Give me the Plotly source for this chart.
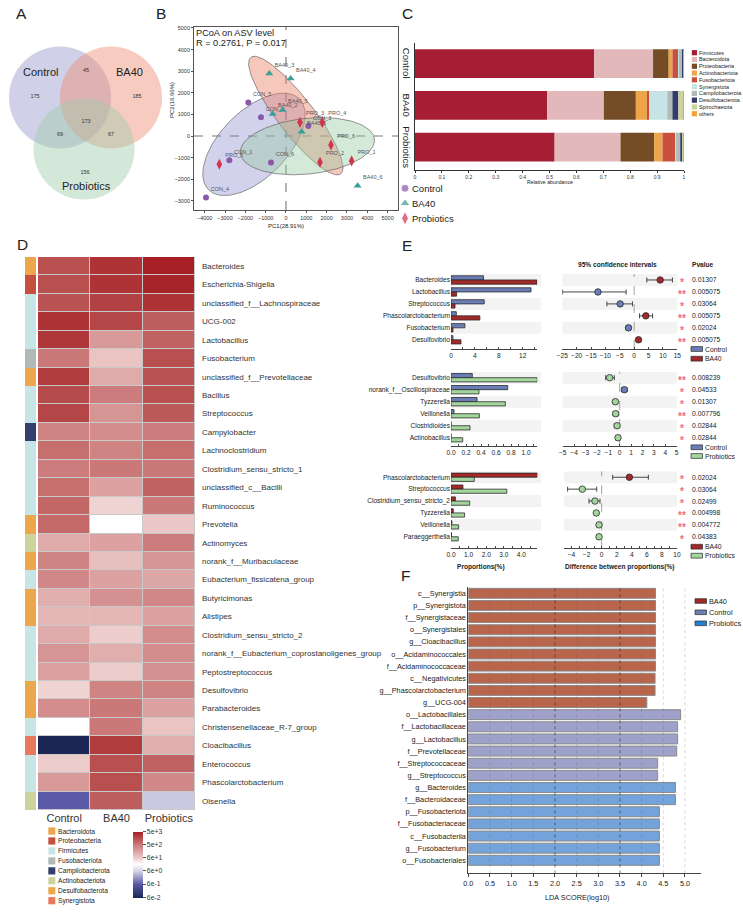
import numpy as np
import plotly.graph_objects as go

W, H = 743, 918
def fx(p): return p / W
def fy(p): return 1 - p / H

FONT = "Liberation Sans, Arial, Helvetica, sans-serif"
TXT = "#222222"

# ======================= DATA =======================
# A  Venn
venn_labels = ["Control", "BA40", "Probiotics"]
venn_counts = [175, 185, 156, 45, 69, 67, 173]  # C only, B only, P only, C&B, C&P, B&P, all

# B  PCoA
pcoa_title = "PCoA on ASV level"
pcoa_stat = "R = 0.2761, P = 0.017"
con_names = ["CON_1", "CON_2", "CON_3", "CON_4", "CON_5", "CON_6"]
con_pc1 = [-2787, -1230, 1098, -3934, -1852, -738]
con_pc2 = [-1123, 866, 463, -2846, 1554, -1231]
ba40_names = ["BA40_1", "BA40_2", "BA40_3", "BA40_4", "BA40_5", "BA40_6"]
ba40_pc1 = [772, -654, -820, 230, -162, 3525]
ba40_pc2 = [199, 1019, 2892, 2662, 1204, -2308]
pro_names = ["PRO_1", "PRO_2", "PRO_3", "PRO_4", "PRO_5", "PRO_6"]
pro_pc1 = [3230, 1672, 689, 1786, -3279, 2213]
pro_pc2 = [-1154, -1215, 634, 634, -1308, -417]
pc1_ticks = [-4000, -3000, -2000, -1000, 0, 1000, 2000, 3000, 4000, 5000]
pc2_ticks = [-3000, -2000, -1000, 0, 1000, 2000, 3000, 4000, 5000]

# C  phylum composition
c_groups = ["Control", "BA40", "Probiotics"]
c_phyla = ["Firmicutes", "Bacteroidota", "Proteobacteria", "Actinobacteriota", "Fusobacteriota",
           "Synergistota", "Campilobacterota", "Desulfobacterota", "Spirochaetota", "others"]
c_control = [0.666, 0.219, 0.058, 0.014, 0.022, 0.002, 0.013, 0.005, 0.000, 0.001]
c_ba40 = [0.491, 0.211, 0.119, 0.045, 0.004, 0.068, 0.019, 0.022, 0.020, 0.001]
c_probiotics = [0.519, 0.245, 0.125, 0.031, 0.048, 0.003, 0.015, 0.010, 0.003, 0.001]
c_ticks = [0, 0.1, 0.2, 0.3, 0.4, 0.5, 0.6, 0.7, 0.8, 0.9, 1]
c_ticklabels = ["0", "0.1", "0.2", "0.3", "0.4", "0.5", "0.6", "0.7", "0.8", "0.9", "1"]

# D  genus heatmap (log10 abundance)
d_groups = ["Control", "BA40", "Probiotics"]
d_genera = ["Bacteroides", "Escherichia-Shigella", "unclassified_f__Lachnospiraceae", "UCG-002",
            "Lactobacillus", "Fusobacterium", "unclassified_f__Prevotellaceae", "Bacillus",
            "Streptococcus", "Campylobacter", "Lachnoclostridium", "Clostridium_sensu_stricto_1",
            "unclassified_c__Bacilli", "Ruminococcus", "Prevotella", "Actinomyces",
            "norank_f__Muribaculaceae", "Eubacterium_fissicatena_group", "Butyricimonas", "Alistipes",
            "Clostridium_sensu_stricto_2", "norank_f__Eubacterium_coprostanoligenes_group",
            "Peptostreptococcus", "Desulfovibrio", "Parabacteroides", "Christensenellaceae_R-7_group",
            "Cloacibacillus", "Enterococcus", "Phascolarctobacterium", "Olsenella"]
d_control = [3.2, 3.2, 3.15, 3.5, 3.45, 2.75, 3.4, 3.25, 3.3, 2.6, 2.85, 2.7, 2.85, 2.95, 2.9,
             2.15, 2.6, 2.55, 2.1, 2.0, 2.15, 2.4, 2.25, 1.7, 2.5, 1.3, -1.2, 1.75, 2.35, -0.2]
d_ba40 = [3.5, 3.5, 3.35, 3.3, 2.35, 1.85, 2.15, 2.7, 2.4, 2.5, 2.6, 2.75, 2.25, 1.7, 1.3,
          2.25, 1.9, 2.25, 2.45, 2.0, 1.75, 2.1, 1.75, 2.6, 2.75, 2.75, 3.4, 3.2, 3.2, 3.05]
d_probiotics = [3.7, 3.65, 3.5, 3.05, 3.0, 3.2, 3.15, 3.2, 3.1, 2.7, 2.85, 2.75, 3.0, 2.75, 1.8,
                2.7, 2.4, 2.2, 2.55, 2.25, 2.5, 2.5, 2.45, 2.6, 2.25, 1.85, 2.1, 3.0, 2.55, 0.7]
d_phylum_names = ["Bacteroidota", "Proteobacteria", "Firmicutes", "Fusobacteriota",
                  "Campilobacterota", "Actinobacteriota", "Desulfobacterota", "Synergistota"]
d_row_phylum = [0, 1, 2, 2, 2, 3, 0, 2, 2, 4, 2, 2, 2, 2, 0, 5, 0, 2, 0, 0, 2, 2, 2, 6, 0, 2, 7, 2, 2, 5]
d_scale_values = [5000, 500, 60, 6, 0.6, 0.06]
d_scale_labels = ["5e+3", "5e+2", "6e+1", "6e+0", "6e-1", "6e-2"]

# E  STAMP-like comparisons
e1_taxa = ["Bacteroides", "Lactobacillus", "Streptococcus", "Phascolarctobacterium", "Fusobacterium", "Desulfovibrio"]
e1_control = [5.44, 13.4, 5.56, 0.89, 2.33, 0.33]
e1_ba40 = [14.4, 0.94, 0.67, 4.83, 0.33, 1.67]
e1_diff = [9.04, -12.6, -4.87, 4.06, -1.97, 1.5]
e1_lo = [4.4, -24.9, -9.5, 1.86, -2.8, 0.9]
e1_hi = [13.3, -2.8, -0.6, 6.4, -1.2, 2.1]
e1_p = ["0.01307", "0.005075", "0.03064", "0.005075", "0.02024", "0.005075"]
e1_sig = ["*", "**", "*", "**", "*", "**"]

e2_taxa = ["Desulfovibrio", "norank_f__Oscillospiraceae", "Tyzzerella", "Veillonella", "Clostridioides", "Actinobacillus"]
e2_control = [0.284, 0.756, 0.347, 0.04, 0.0, 0.0]
e2_probiotics = [1.15, 0.373, 0.724, 0.378, 0.253, 0.156]
e2_diff = [-0.88, 0.41, -0.38, -0.35, -0.23, -0.15]
e2_lo = [-1.23, 0.18, -0.58, -0.58, -0.47, -0.35]
e2_hi = [-0.47, 0.64, -0.18, -0.09, -0.06, 0.06]
e2_p = ["0.008239", "0.04533", "0.01307", "0.007796", "0.02844", "0.02844"]
e2_sig = ["**", "*", "*", "**", "*", "*"]

e3_taxa = ["Phascolarctobacterium", "Streptococcus", "Clostridium_sensu_stricto_2", "Tyzzerella", "Veillonella", "Paraeggerthella"]
e3_ba40 = [4.92, 0.68, 0.25, 0.13, 0.05, 0.03]
e3_probiotics = [1.32, 3.17, 1.06, 0.77, 0.43, 0.41]
e3_diff = [3.68, -2.57, -0.89, -0.71, -0.35, -0.35]
e3_lo = [1.46, -4.52, -1.68, -0.89, -0.62, -0.62]
e3_hi = [6.2, -0.66, -0.22, -0.53, -0.09, -0.09]
e3_p = ["0.02024", "0.03064", "0.02499", "0.004998", "0.004772", "0.04383"]
e3_sig = ["*", "*", "*", "**", "**", "*"]

# F  LEfSe
f_ba40_taxa = ["c__Synergistia", "p__Synergistota", "f__Synergistaceae", "o__Synergistales",
               "g__Cloacibacillus", "o__Acidaminococcales", "f__Acidaminococcaceae",
               "c__Negativicutes", "g__Phascolarctobacterium", "g__UCG-004"]
f_ba40_lda = [4.32, 4.32, 4.32, 4.32, 4.32, 4.32, 4.32, 4.31, 4.31, 4.12]
f_control_taxa = ["o__Lactobacillales", "f__Lactobacillaceae", "g__Lactobacillus",
                  "f__Prevotellaceae", "f__Streptococcaceae", "g__Streptococcus"]
f_control_lda = [4.90, 4.83, 4.83, 4.81, 4.37, 4.37]
f_pro_taxa = ["g__Bacteroides", "f__Bacteroidaceae", "p__Fusobacteriota", "f__Fusobacteriaceae",
              "c__Fusobacteriia", "g__Fusobacterium", "o__Fusobacteriales"]
f_pro_lda = [4.78, 4.78, 4.41, 4.41, 4.41, 4.41, 4.41]
f_ticks = [0.0, 0.5, 1.0, 1.5, 2.0, 2.5, 3.0, 3.5, 4.0, 4.5, 5.0]

# ======================= STYLE =======================
C_PURPLE, C_TEAL, C_CRIMSON = "#8c58a8", "#38a09a", "#d2344e"
c_colors = ["#a51e34", "#e3b8ba", "#744c25", "#eca54a", "#c9503c", "#c6e4e6",
            "#b1bcb9", "#323d6b", "#cdd29e", "#f2a33c"]
d_phylum_colors = ["#eca64c", "#c4503e", "#c7e5e6", "#b0b9b6", "#343f6c", "#ced39e", "#eca64c", "#e8795e"]
E_BLUE, E_RED, E_GREEN = "#6a7db6", "#a52828", "#a3d69c"
F_COL = {"BA40": "#b9654b", "Control": "#9ea1c9", "Probiotics": "#73a3da"}
F_LEG = {"BA40": "#a32a2a", "Control": "#6f7fb5", "Probiotics": "#1f82d4"}

fig = go.Figure()
shapes, annos = [], []

def ann(text, x, y, size=7, color=TXT, xanchor="center", yanchor="middle",
        xref="paper", yref="paper", angle=0, yshift=0, bold=False):
    xv = fx(x) if xref == "paper" else x
    yv = fy(y) if yref == "paper" else y
    if bold:
        text = "<b>" + text + "</b>"
    annos.append(dict(text=text, x=xv, y=yv, xref=xref, yref=yref, showarrow=False,
                      font=dict(size=size, color=color, family=FONT), xanchor=xanchor,
                      yanchor=yanchor, textangle=angle, yshift=yshift, borderpad=0))

def rect(x0, y0, x1, y1, fill, line=None, lw=0.0, layer="above"):
    shapes.append(dict(type="rect", xref="paper", yref="paper", x0=fx(x0), x1=fx(x1),
                       y0=fy(y1), y1=fy(y0), fillcolor=fill,
                       line=dict(color=line or fill, width=lw), layer=layer))

def ax(**kw):
    d = dict(showgrid=False, zeroline=False, showline=False, ticks="", showticklabels=False,
             automargin=False, fixedrange=True)
    d.update(kw)
    return d

# ======================= A : Venn =======================
venn_circles = [(60, 97.5, 51, "rgba(150,150,205,0.45)"),
                (111, 97.5, 51, "rgba(240,140,115,0.45)"),
                (84, 149, 50.5, "rgba(160,205,170,0.45)")]
for cx, cy, r, col in venn_circles:
    shapes.append(dict(type="circle", xref="x12", yref="y12", x0=cx - r, x1=cx + r,
                       y0=cy - r, y1=cy + r, fillcolor=col, line=dict(width=0), layer="below"))
venn_num_x = [35, 137, 85, 86, 60, 111, 86]
venn_num_y = [96.7, 96.7, 172.7, 70.7, 134.3, 134.3, 121.7]
fig.add_trace(go.Scatter(x=venn_num_x, y=venn_num_y, mode="text",
                         text=[str(v) for v in venn_counts],
                         textfont=dict(size=5.5, color="#333", family=FONT),
                         xaxis="x12", yaxis="y12", hoverinfo="skip"))
for lab, (x, y) in zip(venn_labels, [(40, 72), (129.5, 72), (86.3, 186)]):
    ann(lab, x, y, size=11, color=TXT)

# ======================= B : PCoA =======================
def ellipse(xs, ys, k=1.45, n=160):
    xs = np.asarray(xs, float); ys = np.asarray(ys, float)
    vals, vecs = np.linalg.eigh(np.cov(xs, ys))
    t = np.linspace(0, 2 * np.pi, n)
    circ = np.vstack([np.cos(t), np.sin(t)])
    pts = vecs @ (np.sqrt(vals)[:, None] * circ) * k
    return xs.mean() + pts[0], ys.mean() + pts[1]

for xs, ys, col in [(con_pc1, con_pc2, "rgba(130,125,200,0.35)"),
                    (ba40_pc1, ba40_pc2, "rgba(235,130,105,0.45)"),
                    (pro_pc1, pro_pc2, "rgba(150,200,160,0.40)")]:
    ex, ey = ellipse(xs, ys)
    fig.add_trace(go.Scatter(x=ex, y=ey, mode="lines", fill="toself", fillcolor=col,
                             line=dict(color="#666", width=0.7), xaxis="x", yaxis="y",
                             hoverinfo="skip"))
for xs, ys, names, sym, col, sz in [(con_pc1, con_pc2, con_names, "circle", C_PURPLE, 6),
                                     (ba40_pc1, ba40_pc2, ba40_names, "triangle-up", C_TEAL, 7),
                                     (pro_pc1, pro_pc2, pro_names, "diamond-tall", C_CRIMSON, 8)]:
    fig.add_trace(go.Scatter(x=xs, y=ys, mode="markers+text", text=names,
                             textposition="top right",
                             textfont=dict(size=5.5, color="#555", family=FONT),
                             marker=dict(symbol=sym, size=sz, color=col, line=dict(width=0)),
                             xaxis="x", yaxis="y", cliponaxis=False, hoverinfo="skip"))
shapes.append(dict(type="line", xref="x", yref="y domain", x0=0, x1=0, y0=0, y1=1,
                   line=dict(color="#777", width=1.1, dash="dash"), layer="below"))
shapes.append(dict(type="line", xref="x domain", yref="y", x0=0, x1=1, y0=0, y1=0,
                   line=dict(color="#777", width=1.1, dash="dash"), layer="below"))
ann(pcoa_title, 195, 33.3, size=9.2, xanchor="left")
ann(pcoa_stat, 195, 42.7, size=9.2, xanchor="left")
ann("PC1(28.91%)", 286, 226, size=6)
ann("PC2(16.66%)", 172, 100, size=6, angle=-90)
# legend of B
fig.add_trace(go.Scatter(x=[405, 405, 405], y=[188.3, 203.3, 218.3], mode="markers",
                         marker=dict(symbol=["circle", "triangle-up", "diamond-tall"],
                                     size=[8, 9, 10], color=[C_PURPLE, C_TEAL, C_CRIMSON]),
                         xaxis="x12", yaxis="y12", hoverinfo="skip"))
for lab, y in zip(["Control", "BA40", "Probiotics"], [188.3, 203.3, 218.3]):
    ann(lab, 410.5, y, size=9.5, xanchor="left")

# ======================= C : stacked bars =======================
c_matrix = np.array([c_control, c_ba40, c_probiotics])
c_base = np.cumsum(c_matrix, axis=1) - c_matrix
for j, ph in enumerate(c_phyla):
    fig.add_trace(go.Bar(y=[0, 1, 2], x=c_matrix[:, j], base=c_base[:, j], orientation="h",
                         width=0.69, marker=dict(color=c_colors[j], line=dict(width=0)),
                         xaxis="x2", yaxis="y2", hoverinfo="skip"))
for i, g in enumerate(c_groups):
    ann(g, 406.7, i, yref="y2", size=9.5, angle=90)
ann("Relative abundance", 550, 181.7, size=5.2)
for j, ph in enumerate(c_phyla):
    yy = 52.7 + j * 6.78
    rect(691.8, yy - 2.6, 697, yy + 2.6, c_colors[j])
    ann(ph, 698.3, yy, size=5.4, xanchor="left")

# ======================= D : heatmap =======================
d_z = np.array([d_control, d_ba40, d_probiotics]).T
zmin, zmax = np.log10(0.06), np.log10(5000)
span = zmax - zmin
stops = [(np.log10(0.06), "#1c2654"), (np.log10(0.6), "#5656a4"), (np.log10(6), "#d4d4ea"),
         (1.3, "#ffffff"), (np.log10(60), "#ecc9c9"), (np.log10(500), "#cc7c7c"),
         (3.2, "#b85050"), (np.log10(5000), "#a51f24")]
d_colorscale = [[(v - zmin) / span, c] for v, c in stops]
d_colorscale[0][0] = 0.0
d_colorscale[-1][0] = 1.0
shapes.append(dict(type="rect", xref="x3 domain", yref="y3 domain", x0=0, x1=1, y0=0, y1=1,
                   fillcolor="#c9c9c9", line=dict(width=0), layer="below"))
fig.add_trace(go.Heatmap(z=d_z, x=[0, 1, 2], y=list(range(len(d_genera))), zmin=zmin, zmax=zmax,
                         colorscale=d_colorscale, xgap=1, ygap=1, xaxis="x3", yaxis="y3",
                         hoverinfo="skip",
                         colorbar=dict(x=fx(133.3), xanchor="left", y=fy(864.5), yanchor="middle",
                                       lenmode="pixels", len=66, thickness=10, xpad=0, ypad=0,
                                       outlinewidth=0, ticks="outside", ticklen=3,
                                       tickcolor="#555",
                                       tickvals=list(np.log10(d_scale_values)),
                                       ticktext=d_scale_labels,
                                       tickfont=dict(size=6.8, color="#333", family=FONT))))
nph = len(d_phylum_names)
strip_cs = []
for i, c in enumerate(d_phylum_colors):
    strip_cs += [[i / nph, c], [(i + 1) / nph, c]]
fig.add_trace(go.Heatmap(z=[[v] for v in d_row_phylum], x=[0], y=list(range(len(d_genera))),
                         zmin=-0.5, zmax=nph - 0.5, colorscale=strip_cs, showscale=False,
                         xaxis="x4", yaxis="y3", hoverinfo="skip"))
for i, (nm, col) in enumerate(zip(d_phylum_names, d_phylum_colors)):
    yy = 831 + i * 9.96
    rect(48.3, yy - 3.6, 55.3, yy + 3.6, col)
    ann(nm, 56.7, yy, size=6.6, xanchor="left")

# ======================= E : comparisons =======================
def e_panel(xb, xc, ya, taxa, g1, g2, col1, col2, diff, lo, hi, pos_col, neg_col,
            pvals, sig, band_bar, band_ci):
    yb = list(range(len(taxa)))
    for i in yb:
        if i % 2 == 0:
            for x0, x1 in (band_bar, band_ci):
                shapes.append(dict(type="rect", xref="paper", yref=ya, x0=fx(x0), x1=fx(x1),
                                   y0=i - 0.5, y1=i + 0.5, fillcolor="#f3f3f3",
                                   line=dict(width=0), layer="below"))
    fig.add_trace(go.Bar(y=yb, x=g1, orientation="h", width=0.35, offset=-0.35,
                         marker=dict(color=col1, line=dict(color="#2b2b2b", width=0.8)),
                         xaxis=xb, yaxis=ya, hoverinfo="skip"))
    fig.add_trace(go.Bar(y=yb, x=g2, orientation="h", width=0.35, offset=0.0,
                         marker=dict(color=col2, line=dict(color="#2b2b2b", width=0.8)),
                         xaxis=xb, yaxis=ya, hoverinfo="skip"))
    d = np.array(diff); l = np.array(lo); h = np.array(hi)
    shapes.append(dict(type="line", xref=xc, yref=ya + " domain", x0=0, x1=0, y0=0, y1=1,
                       line=dict(color="#999", width=0.9, dash="dash"), layer="below"))
    fig.add_trace(go.Scatter(x=d, y=yb, mode="markers",
                             marker=dict(size=6.5, color=[pos_col if v > 0 else neg_col for v in d],
                                         line=dict(color="#2b2b2b", width=0.8)),
                             error_x=dict(type="data", symmetric=False, array=h - d,
                                          arrayminus=d - l, color="#333", thickness=0.9, width=2.5),
                             xaxis=xc, yaxis=ya, hoverinfo="skip"))
    for i in yb:
        ann(sig[i], 681.5, i, yref=ya, size=10, color="#f26d7d", yshift=-2.5, bold=True)
        ann(pvals[i], 690.7, i, yref=ya, size=6.8, xanchor="left")

e_panel("x5", "x6", "y5", e1_taxa, e1_control, e1_ba40, E_BLUE, E_RED, e1_diff, e1_lo, e1_hi,
        E_RED, E_BLUE, e1_p, e1_sig, (451, 541), (562.3, 677.3))
e_panel("x7", "x8", "y7", e2_taxa, e2_control, e2_probiotics, E_BLUE, E_GREEN, e2_diff, e2_lo,
        e2_hi, E_BLUE, E_GREEN, e2_p, e2_sig, (451, 541), (562.7, 676.7))
e_panel("x9", "x10", "y9", e3_taxa, e3_ba40, e3_probiotics, E_RED, E_GREEN, e3_diff, e3_lo,
        e3_hi, E_RED, E_GREEN, e3_p, e3_sig, (451, 541), (564, 677))
ann("95% confidence intervals", 617, 264, size=6.6, bold=True)
ann("Pvalue", 690.7, 264, size=6.6, xanchor="left", bold=True)
ann("Proportions(%)", 481, 567, size=6.6, bold=True)
ann("Difference between proportions(%)", 620, 567, size=6.6, bold=True)
for (lab, col, y) in [("Control", E_BLUE, 349), ("BA40", E_RED, 358.7),
                      ("Control", E_BLUE, 447.3), ("Probiotics", E_GREEN, 456),
                      ("BA40", E_RED, 546.7), ("Probiotics", E_GREEN, 555.7)]:
    rect(691, y - 2.4, 702.5, y + 2.4, col, line="#2b2b2b", lw=0.7)
    ann(lab, 703.5, y, size=6.8, xanchor="left")

# ======================= F : LDA =======================
f_all_taxa = f_ba40_taxa + f_control_taxa + f_pro_taxa
start = 0
for grp, taxa, vals in [("BA40", f_ba40_taxa, f_ba40_lda), ("Control", f_control_taxa, f_control_lda),
                        ("Probiotics", f_pro_taxa, f_pro_lda)]:
    ys = list(range(start, start + len(taxa)))
    start += len(taxa)
    fig.add_trace(go.Bar(y=ys, x=vals, orientation="h", width=0.82,
                         marker=dict(color=F_COL[grp], line=dict(color="#8a8a8a", width=1)),
                         xaxis="x11", yaxis="y11", hoverinfo="skip"))
for v in f_ticks[1:]:
    dark = v in (2.0, 3.5)
    shapes.append(dict(type="line", xref="x11", yref="y11 domain", x0=v, x1=v, y0=0, y1=1,
                       line=dict(color="rgba(40,40,40,0.75)" if dark else "rgba(90,90,90,0.3)",
                                 width=0.8, dash="dot"), layer="above"))
ann("LDA SCORE(log10)", 577, 897, size=7.3)
for (grp, y) in [("BA40", 601), ("Control", 612.3), ("Probiotics", 623.3)]:
    rect(695, y - 2.3, 706.5, y + 2.3, F_LEG[grp], line="#2b2b2b", lw=0.7)
    ann(grp, 707.5, y, size=7.3, xanchor="left")

# panel letters
for L, x, y in [("A", 21, 14), ("B", 160.5, 14), ("C", 407, 13.5), ("D", 22, 245),
                ("E", 407, 246), ("F", 405.7, 575.5)]:
    ann(L, x, y, size=15.5, color=TXT)

# ======================= LAYOUT =======================
tickf = dict(size=6.6, color="#222", family=FONT)
e_x = dict(showline=True, linecolor="#444", linewidth=0.8, ticks="inside", ticklen=2.5,
           tickcolor="#444", tickwidth=0.7, showticklabels=True, tickfont=tickf)
layout = dict(
    width=W, height=918, margin=dict(l=0, r=0, t=0, b=0), template="none",
    paper_bgcolor="white", plot_bgcolor="rgba(0,0,0,0)", showlegend=False, barmode="overlay",
    font=dict(family=FONT, color=TXT), shapes=shapes, annotations=annos,
    xaxis=ax(domain=[fx(194), fx(398)], range=[-4525, 5510], anchor="y", showline=True,
             mirror=True, linecolor="#555", linewidth=0.8, ticks="outside", ticklen=2,
             tickcolor="#555", tickvals=pc1_ticks, showticklabels=True,
             tickfont=dict(size=5.5, color="#333", family=FONT)),
    yaxis=ax(domain=[fy(210), fy(27)], range=[-3426, 5046], anchor="x", showline=True,
             mirror=True, linecolor="#555", linewidth=0.8, ticks="outside", ticklen=2,
             tickcolor="#555", tickvals=pc2_ticks, showticklabels=True,
             tickfont=dict(size=5.5, color="#333", family=FONT)),
    xaxis2=ax(domain=[fx(415), fx(684)], range=[0, 1], anchor="y2", showline=True,
              linecolor="#333", linewidth=0.6, ticks="outside", ticklen=2, tickcolor="#333",
              tickvals=c_ticks, ticktext=c_ticklabels, showticklabels=True,
              tickfont=dict(size=5, color="#333", family=FONT)),
    yaxis2=ax(domain=[fy(170), fy(42.7)], range=[2.55, -0.5], anchor="x2", showline=True,
              linecolor="#333", linewidth=0.6),
    xaxis3=ax(domain=[fx(38), fx(195)], range=[-0.5, 2.5], anchor="y3", tickvals=[0, 1, 2],
              ticktext=d_groups, showticklabels=True,
              tickfont=dict(size=11, color="#333", family=FONT)),
    yaxis3=ax(domain=[fy(810), fy(257)], range=[len(d_genera) - 0.5, -0.5], anchor="x3",
              side="right", tickvals=list(range(len(d_genera))), ticktext=d_genera,
              showticklabels=True, ticklabelstandoff=6,
              tickfont=dict(size=8, color="#333", family=FONT)),
    xaxis4=ax(domain=[fx(25), fx(36)], range=[-0.5, 0.5], anchor="y3"),
    xaxis5=ax(domain=[fx(451), fx(537.3)], range=[0, 14.45], anchor="y5", tickvals=[0, 4, 8, 12],
              minor=dict(dtick=2, ticks="inside", ticklen=2, tickcolor="#444"), **e_x),
    xaxis6=ax(domain=[fx(562.3), fx(677.3)], range=[-25, 15], anchor="y5",
              tickvals=[-25, -20, -15, -10, -5, 0, 5, 10, 15], **e_x),
    yaxis5=ax(domain=[fy(349), fy(274)], range=[5.77, -0.5], anchor="x5",
              tickvals=list(range(6)), ticktext=e1_taxa, showticklabels=True, tickfont=tickf),
    xaxis7=ax(domain=[fx(451), fx(537.3)], range=[0, 1.15], anchor="y7",
              tickvals=[0, 0.2, 0.4, 0.6, 0.8, 1.0], ticktext=["0.0", "0.2", "0.4", "0.6", "0.8", "1.0"],
              minor=dict(dtick=0.1, ticks="inside", ticklen=2, tickcolor="#444"), **e_x),
    xaxis8=ax(domain=[fx(562.7), fx(676.7)], range=[-5, 5], anchor="y7",
              tickvals=[-5, -4, -3, -2, -1, 0, 1, 2, 3, 4, 5], **e_x),
    yaxis7=ax(domain=[fy(446), fy(371.7)], range=[5.69, -0.5], anchor="x7",
              tickvals=list(range(6)), ticktext=e2_taxa, showticklabels=True, tickfont=tickf),
    xaxis9=ax(domain=[fx(451), fx(537.3)], range=[0, 4.9], anchor="y9",
              tickvals=[0, 1, 2, 3, 4], ticktext=["0.0", "1.0", "2.0", "3.0", "4.0"],
              minor=dict(dtick=0.5, ticks="inside", ticklen=2, tickcolor="#444"), **e_x),
    xaxis10=ax(domain=[fx(564), fx(677)], range=[-5, 10], anchor="y9",
               tickvals=[-4, -2, 0, 2, 4, 6, 8, 10],
               minor=dict(dtick=1, ticks="inside", ticklen=2, tickcolor="#444"), **e_x),
    yaxis9=ax(domain=[fy(548.3), fy(471.3)], range=[5.97, -0.5], anchor="x9",
              tickvals=list(range(6)), ticktext=e3_taxa, showticklabels=True, tickfont=tickf),
    xaxis11=ax(domain=[fx(468.3), fx(701)], range=[0, 5.37], anchor="y11", showline=True,
               linecolor="#444", linewidth=0.8, ticks="outside", ticklen=3, tickcolor="#444",
               tickvals=f_ticks, ticktext=["%.1f" % v for v in f_ticks], showticklabels=True,
               tickfont=dict(size=7.3, color="#222", family=FONT)),
    yaxis11=ax(domain=[fy(873.3), fy(587)], range=[len(f_all_taxa) + 0.07, -0.52], anchor="x11",
               showline=True, linecolor="#444", linewidth=0.8,
               tickvals=list(range(len(f_all_taxa))), ticktext=f_all_taxa, showticklabels=True,
               tickfont=dict(size=7.3, color="#222", family=FONT)),
    xaxis12=ax(domain=[0, 1], range=[0, W], anchor="y12"),
    yaxis12=ax(domain=[0, 1], range=[H, 0], anchor="x12"),
)
fig.update_layout(**layout)
fig.write_html("out.html", config={"displayModeBar": False},
               post_script="document.body.style.margin='0px';document.body.style.padding='0px';"
                           "document.documentElement.style.overflow='hidden';")
